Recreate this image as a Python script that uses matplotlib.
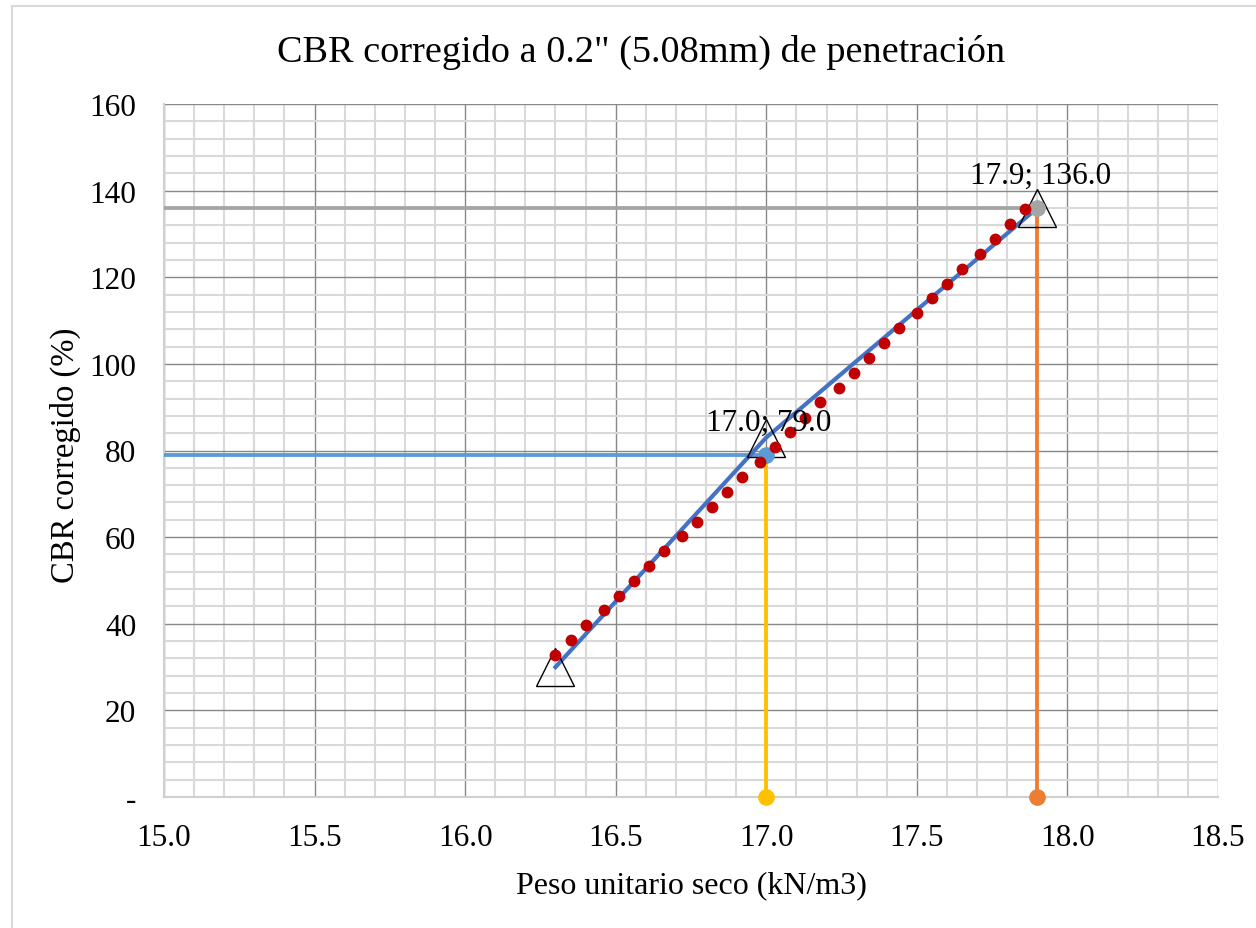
import matplotlib
matplotlib.use('Agg')
import matplotlib.pyplot as plt
from matplotlib.ticker import MultipleLocator
from matplotlib.lines import Line2D

# ---- data ----
peso = [16.30, 16.35, 16.40, 16.46, 16.51, 16.56, 16.61, 16.66, 16.72, 16.77,
        16.82, 16.87, 16.92, 16.98, 17.03, 17.08, 17.13, 17.18, 17.24, 17.29,
        17.34, 17.39, 17.44, 17.50, 17.55, 17.60, 17.65, 17.71, 17.76, 17.81,
        17.86]
cbr = [32.8, 36.2, 39.6, 43.1, 46.5, 49.9, 53.4, 56.7, 60.2, 63.6,
       67.0, 70.5, 73.8, 77.3, 80.7, 84.2, 87.6, 91.1, 94.4, 97.9,
       101.4, 104.8, 108.2, 111.7, 115.1, 118.5, 121.9, 125.4, 128.8, 132.3,
       135.7]

# points of the blue curve (triangles)
curva_x = [16.3, 17.0, 17.9]
curva_y = [30.0, 83.0, 136.0]

# 95% and max
x95, cbr95 = 17.0, 79.0
xmax, cbrmax = 17.9, 136.0

ytick_vals = [0, 20, 40, 60, 80, 100, 120, 140, 160]
ytick_labels = ['-', '20', '40', '60', '80', '100', '120', '140', '160']
xtick_vals = [15.0, 15.5, 16.0, 16.5, 17.0, 17.5, 18.0, 18.5]

plt.rcParams['font.family'] = ['Liberation Serif', 'DejaVu Serif']

W, H = 1256, 929
fig = plt.figure(figsize=(W / 100, H / 100), dpi=100)
ax = fig.add_axes([164 / W, 1 - 798 / H, (1218 - 164) / W, (798 - 105) / H])

ax.set_xlim(15.0, 18.5)
ax.set_ylim(0, 160)
ax.set_xticks(xtick_vals)
ax.set_xticklabels(['%.1f' % v for v in xtick_vals])
ax.set_yticks(ytick_vals)
ax.set_yticklabels(ytick_labels)
ax.xaxis.set_minor_locator(MultipleLocator(0.1))
ax.yaxis.set_minor_locator(MultipleLocator(4))
ax.tick_params(which='both', length=0)
ax.tick_params(axis='x', pad=19, labelsize=22.5)
ax.tick_params(axis='y', pad=20, labelsize=22.5)

ax.grid(which='minor', color='#d9d9d9', lw=1.5)
ax.grid(which='major', color='#888888', lw=1.0)
ax.set_axisbelow(True)
for s in ['top', 'right']:
    ax.spines[s].set_visible(False)
for s in ['left', 'bottom']:
    ax.spines[s].set_color('#d0d0d0')
    ax.spines[s].set_linewidth(1.5)

# guide lines
ax.plot([15.0, xmax], [cbrmax, cbrmax], color='#a5a5a5', lw=2.75, zorder=3)
ax.plot([15.0, x95], [cbr95, cbr95], color='#5b9bd5', lw=2.75, zorder=3)
ax.plot([x95, x95], [cbr95, 0], color='#ffc000', lw=2.75, zorder=3)
ax.plot([xmax, xmax], [cbrmax, 0], color='#ed7d31', lw=2.75, zorder=3)

# curve + triangles
ax.plot(curva_x, curva_y, color='#4472c4', lw=3, zorder=4)
ax.plot(curva_x, curva_y, ls='none', marker='^', ms=27, mfc='none',
        mec='black', mew=1.0, zorder=5)

# circles at ends
ax.plot([x95], [cbr95], 'o', color='#5b9bd5', ms=11, zorder=5)
ax.plot([xmax], [cbrmax], 'o', color='#a5a5a5', ms=11, zorder=5)
ax.plot([x95], [0], 'o', color='#ffc000', ms=11, zorder=5, clip_on=False)
ax.plot([xmax], [0], 'o', color='#ed7d31', ms=11, zorder=5, clip_on=False)

# measured points
ax.plot(peso, cbr, ls='none', marker='o', ms=7.5, color='#c00000', zorder=6)

for xv, yv in [(x95, cbr95), (xmax, cbrmax)]:
    ax.annotate('%.1f; %.1f' % (xv, yv), (xv, yv), xytext=(2, 18),
                textcoords='offset points', ha='center', va='baseline',
                fontsize=22.5, zorder=7)

fig.text(641 / W, 1 - 61.7 / H, 'CBR corregido a 0.2" (5.08mm) de penetración',
         ha='center', va='baseline', fontsize=27.5)
fig.text(691 / W, 1 - 893 / H, 'Peso unitario seco (kN/m3)',
         ha='center', va='baseline', fontsize=23)
fig.text(65 / W, 1 - 455 / H, 'CBR corregido (%)', rotation=90,
         ha='center', va='center', fontsize=23.5)

# chart area border
fig.add_artist(Line2D([11.5 / W, 11.5 / W], [0, 1 - 6.5 / H],
                      transform=fig.transFigure, color='#d9d9d9', lw=1.5))
fig.add_artist(Line2D([11.5 / W, 1], [1 - 6.5 / H, 1 - 6.5 / H],
                      transform=fig.transFigure, color='#d9d9d9', lw=1.5))

fig.savefig('out.png', dpi=100)
